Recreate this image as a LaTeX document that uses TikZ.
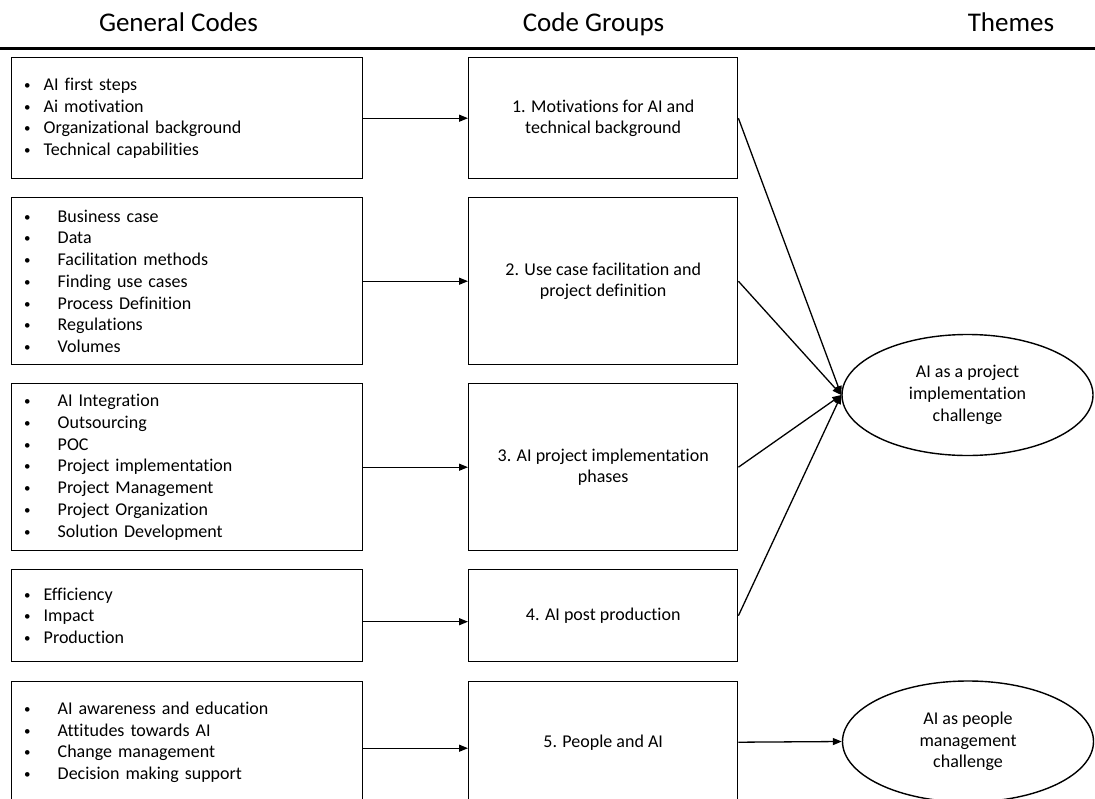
\documentclass[tikz,border=0pt]{standalone}
\usepackage{fontspec}
\setmainfont[Ligatures={NoCommon}]{Carlito}
\usetikzlibrary{shapes.geometric,arrows.meta}

% small list bullet
\newcommand\smallbullet{{\fontsize{13}{13}\selectfont\raisebox{1pt}{\textbullet}}}
% bullet item: bullet in a box of width #1, then the text
\newcommand\bitem[2]{\makebox[#1][l]{\hspace{2.5pt}\smallbullet}#2}

\tikzset{
  codebox/.style={draw, line width=1.4pt, rectangle, anchor=north west,
    minimum width=351pt, text width=331pt, inner xsep=10pt, inner ysep=0pt,
    align=left, font=\fontsize{18}{21.7}\selectfont},
  groupbox/.style={draw, line width=1.4pt, rectangle, anchor=north west,
    minimum width=269pt, inner sep=0pt, align=center,
    font=\fontsize{18}{21.7}\selectfont},
  theme/.style={draw, line width=1.4pt, ellipse, minimum width=251pt,
    minimum height=121pt, inner sep=0pt, align=center,
    font=\fontsize{18}{21.7}\selectfont},
  header/.style={anchor=base, font=\fontsize{27}{30}\selectfont},
  arr/.style={line width=1.3pt, -{Triangle[length=9pt,width=7pt]}}
}

\begin{document}
\begin{tikzpicture}[x=1pt,y=-1pt]
  \fill[white] (0,0) rectangle (1095,798);
  \clip (0,0) rectangle (1095,798);

  % column headings and rule
  \node[header] (hcodes) at (178.5,31) {General Codes};
  \node[header] (hgroups) at (593.5,31) {Code Groups};
  \node[header] (hthemes) at (1011,31) {Themes};
  \draw[line width=3.5pt] (0,48.5) -- (1095,48.5);

  % general codes
  \node[codebox, minimum height=121pt] (l1) at (11,57) {%
    \bitem{22pt}{AI first steps}\\
    \bitem{22pt}{Ai motivation}\\
    \bitem{22pt}{Organizational background}\\
    \bitem{22pt}{Technical capabilities}};
  \node[codebox, minimum height=167pt] (l2) at (11,197) {%
    \bitem{36pt}{Business case}\\
    \bitem{36pt}{Data}\\
    \bitem{36pt}{Facilitation methods}\\
    \bitem{36pt}{Finding use cases}\\
    \bitem{36pt}{Process Definition}\\
    \bitem{36pt}{Regulations}\\
    \bitem{36pt}{Volumes}};
  \node[codebox, minimum height=167pt] (l3) at (11,383) {%
    \bitem{36pt}{AI Integration}\\
    \bitem{36pt}{Outsourcing}\\
    \bitem{36pt}{POC}\\
    \bitem{36pt}{Project implementation}\\
    \bitem{36pt}{Project Management}\\
    \bitem{36pt}{Project Organization}\\
    \bitem{36pt}{Solution Development}};
  \node[codebox, minimum height=92pt] (l4) at (11,569) {%
    \bitem{22pt}{Efficiency}\\
    \bitem{22pt}{Impact}\\
    \bitem{22pt}{Production}};
  \node[codebox, minimum height=121pt] (l5) at (11,681) {%
    \bitem{36pt}{AI awareness and education}\\
    \bitem{36pt}{Attitudes towards AI}\\
    \bitem{36pt}{Change management}\\
    \bitem{36pt}{Decision making support}};

  % code groups
  \node[groupbox, minimum height=121pt] (m1) at (468,57)
    {1. Motivations for AI and\\technical background};
  \node[groupbox, minimum height=167pt] (m2) at (468,197)
    {2. Use case facilitation and\\project definition};
  \node[groupbox, minimum height=167pt] (m3) at (468,383)
    {3. AI project implementation\\phases};
  \node[groupbox, minimum height=92pt] (m4) at (468,569)
    {4. AI post production};
  \node[groupbox, minimum height=121pt] (m5) at (468,681)
    {5. People and AI};

  % themes
  \node[theme] (e1) at (967.5,395)
    {AI as a project\\implementation\\challenge};
  \node[theme] (e2) at (968,741.5)
    {AI as people\\management\\challenge};

  % codes to groups
  \draw[arr] (l1.east) -- (m1.west);
  \draw[arr] (l2.east) -- (m2.west);
  \draw[arr] (l3.east) -- (m3.west);
  \draw[arr] ([yshift=-6pt]l4.east) -- ([yshift=-6pt]m4.west);
  \draw[arr] ([yshift=-6pt]l5.east) -- ([yshift=-6pt]m5.west);

  % groups to themes
  \draw[arr] (m1.east) -- (e1.west);
  \draw[arr] (m2.east) -- (e1.west);
  \draw[arr] (m3.east) -- (e1.west);
  \draw[arr] (m4.east) -- (e1.west);
  \draw[arr] (m5.east) -- (e2.west);
\end{tikzpicture}
\end{document}
